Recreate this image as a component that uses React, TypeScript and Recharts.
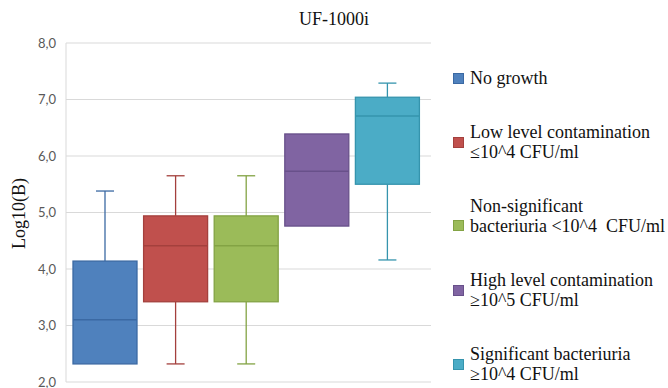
import { ComposedChart, Bar, XAxis, YAxis, CartesianGrid, Label } from 'recharts';

const categories = [
  'No growth',
  'Low level contamination ≤10^4 CFU/ml',
  'Non-significant bacteriuria <10^4 CFU/ml',
  'High level contamination ≥10^5 CFU/ml',
  'Significant bacteriuria ≥10^4 CFU/ml',
];
const legendLines = [
  ['No growth'],
  ['Low level contamination', '≤10^4 CFU/ml'],
  ['Non-significant', 'bacteriuria <10^4\u00a0 CFU/ml'],
  ['High level contamination', '≥10^5 CFU/ml'],
  ['Significant bacteriuria', '≥10^4 CFU/ml'],
];
const mins = [2.32, 2.32, 2.32, 4.76, 4.16];
const q1s = [2.32, 3.42, 3.42, 4.76, 5.5];
const medians = [3.1, 4.41, 4.41, 5.73, 6.71];
const q3s = [4.14, 4.94, 4.94, 6.39, 7.04];
const maxs = [5.38, 5.65, 5.65, 6.39, 7.29];
const yTicks = [2, 3, 4, 5, 6, 7, 8];

const fills = ['#4f81bd', '#c0504d', '#9bbb59', '#8064a2', '#4bacc6'];
const edges = ['#3b69a3', '#a4403d', '#83a344', '#68508a', '#3594ad'];

const serif = '"Liberation Serif", "Times New Roman", serif';

const data = categories.map((name, i) => ({
  name,
  min: mins[i],
  q1: q1s[i],
  median: medians[i],
  q3: q3s[i],
  max: maxs[i],
  range: [mins[i], maxs[i]],
}));

function BoxShape(props: any) {
  const { x, y, width, height, payload, index } = props;
  const top = Math.min(y, y + height);
  const h = Math.abs(height);
  const span = payload.max - payload.min;
  const py = (v: number) => top + (h * (payload.max - v)) / span;
  const cx = x + width / 2;
  const fill = fills[index];
  const edge = edges[index];
  const cap = 9;
  return (
    <g>
      {payload.max > payload.q3 && (
        <>
          <line x1={cx} x2={cx} y1={py(payload.max)} y2={py(payload.q3)} stroke={edge} strokeWidth={1.3} />
          <line x1={cx - cap} x2={cx + cap} y1={py(payload.max)} y2={py(payload.max)} stroke={edge} strokeWidth={1.3} />
        </>
      )}
      {payload.min < payload.q1 && (
        <>
          <line x1={cx} x2={cx} y1={py(payload.q1)} y2={py(payload.min)} stroke={edge} strokeWidth={1.3} />
          <line x1={cx - cap} x2={cx + cap} y1={py(payload.min)} y2={py(payload.min)} stroke={edge} strokeWidth={1.3} />
        </>
      )}
      <rect
        x={x}
        y={py(payload.q3)}
        width={width}
        height={py(payload.q1) - py(payload.q3)}
        fill={fill}
        stroke={edge}
        strokeWidth={1.3}
      />
      <line x1={x} x2={x + width} y1={py(payload.median)} y2={py(payload.median)} stroke={edge} strokeWidth={1.5} />
    </g>
  );
}

function YTitle(props: any) {
  const vb = props.viewBox;
  const cx = vb.x + 19;
  const cy = vb.y + vb.height / 2 + 1;
  return (
    <text
      x={cx}
      y={cy}
      transform={`rotate(-90 ${cx} ${cy})`}
      textAnchor="middle"
      dominantBaseline="central"
      fontFamily={serif}
      fontSize={18}
      fill="#111"
    >
      Log10(B)
    </text>
  );
}

export default function App() {
  return (
    <div style={{ position: 'absolute', left: 0, top: 0, width: 668, height: 388, background: '#fff' }}>
      <div
        style={{
          position: 'absolute',
          top: 9,
          left: 0,
          width: 668,
          textAlign: 'center',
          fontFamily: serif,
          fontSize: 18,
          lineHeight: '20px',
          color: '#111',
        }}
      >
        UF-1000i
      </div>
      <ComposedChart width={668} height={388} data={data} margin={{ top: 43, right: 237, bottom: 6, left: 0 }}>
        <CartesianGrid vertical={false} stroke="#d9d9d9" />
        <XAxis dataKey="name" hide padding={{ left: 4, right: 8 }} />
        <YAxis
          width={66}
          domain={[2, 8]}
          ticks={yTicks}
          interval={0}
          tickFormatter={(v: number) => v.toFixed(1).replace('.', ',')}
          tickLine={false}
          tickSize={0}
          tickMargin={10}
          axisLine={{ stroke: '#d9d9d9' }}
          tick={{ fill: '#595959', fontSize: 13, fontFamily: 'Lato, sans-serif' }}
        >
          <Label content={<YTitle />} />
        </YAxis>
        <Bar dataKey="range" barSize={64} shape={<BoxShape />} isAnimationActive={false} />
      </ComposedChart>
      <div
        style={{
          position: 'absolute',
          left: 453,
          top: 68,
          display: 'flex',
          flexDirection: 'column',
          gap: 34,
          fontFamily: serif,
          fontSize: 18,
          lineHeight: '20px',
          color: '#111',
        }}
      >
        {legendLines.map((lines, i) => (
          <div key={i} style={{ display: 'flex', alignItems: i === 2 ? 'flex-end' : 'center' }}>
            <span
              style={{
                width: 9,
                height: 9,
                background: fills[i],
                border: `1px solid ${edges[i]}`,
                marginRight: 6,
                marginBottom: i === 2 ? 5 : 0,
                flexShrink: 0,
              }}
            />
            <div style={{ whiteSpace: 'nowrap' }}>
              {lines.map((t, j) => (
                <div key={j}>{t}</div>
              ))}
            </div>
          </div>
        ))}
      </div>
    </div>
  );
}
